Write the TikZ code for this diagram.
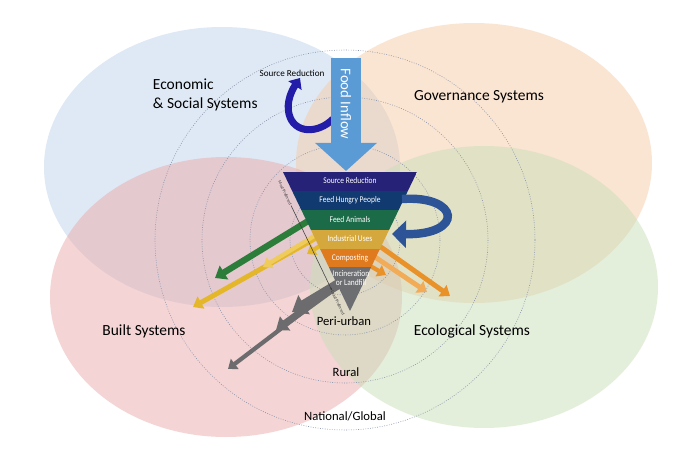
\documentclass[tikz,border=0pt]{standalone}
\usepackage{fontspec}
\setmainfont{Carlito}
\usetikzlibrary{arrows.meta}

\definecolor{econblue}{RGB}{190,212,236}
\definecolor{govorange}{RGB}{247,203,167}
\definecolor{builtpink}{RGB}{235,171,171}
\definecolor{ecogreen}{RGB}{201,223,185}
\definecolor{ringgrey}{RGB}{135,145,168}
\definecolor{inflowblue}{RGB}{91,155,213}
\definecolor{curlblue}{RGB}{34,28,168}
\definecolor{loopblue}{RGB}{44,84,150}
\definecolor{tierone}{RGB}{38,34,120}
\definecolor{tiertwo}{RGB}{16,58,112}
\definecolor{tierthree}{RGB}{27,107,72}
\definecolor{tierfour}{RGB}{212,168,60}
\definecolor{tierfive}{RGB}{224,122,30}
\definecolor{tiersix}{RGB}{108,110,113}
\definecolor{greenflow}{RGB}{44,125,58}
\definecolor{yellowflow}{RGB}{228,183,42}
\definecolor{yellowlight}{RGB}{238,203,90}
\definecolor{orangeflow}{RGB}{233,146,42}
\definecolor{orangelight}{RGB}{242,172,88}
\definecolor{greyflow}{RGB}{108,108,110}

\tikzset{
  ring/.style={draw=ringgrey, line width=0.4pt, dash pattern=on 0.6pt off 1.1pt},
  system/.style={font=\fontsize{11}{13}\selectfont},
  scalelabel/.style={font=\fontsize{9}{10}\selectfont},
  tier/.style={text=white, font=\fontsize{6.2}{6.6}\selectfont, inner sep=0pt, align=center, xscale=0.86, transform shape},
  flow/.style={line width=#1, -{Triangle[length=3pt 1, width=4pt 1.6]}},
  flow/.default=4pt,
  preftext/.style={font=\fontsize{3}{3.5}\selectfont, inner sep=0.5pt, text=black!80, rotate=-64.3}
}

\begin{document}
\begin{tikzpicture}[x=0.025cm,y=-0.025cm]

  \useasboundingbox[fill=white] (0,0) rectangle (700,454);

  % the four systems
  \begin{scope}[fill opacity=0.5]
    \fill[econblue]  (222,167) ellipse (178 and 140);
    \fill[govorange] (474,163) ellipse (178 and 140);
    \fill[builtpink] (226,297) ellipse (176 and 140);
    \fill[ecogreen]  (484,287) ellipse (174 and 141);
  \end{scope}

  % scales
  \foreach \r in {55,95,143,190}
    \draw[ring] (345,240) circle (\r);

  \begin{scope}[every node/.style={system}]
    \node[align=left, anchor=west] (econ) at (148,95) {Economic\\\& Social Systems};
    \node (gov)   at (479,97)  {Governance Systems};
    \node (built) at (144,331) {Built Systems};
    \node (eco)   at (472,331) {Ecological Systems};
  \end{scope}

  \begin{scope}[every node/.style={scalelabel}]
    \node (peri)   at (344,321) {Peri-urban};
    \node (rural)  at (346,372) {Rural};
    \node (global) at (345,416) {National/Global};
  \end{scope}

  % outflows
  \coordinate (greentail) at (318,215);
  \coordinate (greentip)  at (215,278);
  \draw[flow=4.5pt, greenflow] (greentail) -- (greentip);

  \coordinate (yellowtail) at (325,233);
  \draw[flow=3.5pt, yellowflow]  (yellowtail) -- (193,307);
  \draw[flow=3pt, yellowlight]   (324,230) -- (263,267);
  \draw[flow=3pt, yellowflow]    (326,242) -- (307,254);

  \draw[flow=3.5pt, orangeflow]  (378,245) -- (450,296);
  \draw[flow=3.5pt, orangelight] (372,255) -- (427,292);
  \draw[flow=3pt, orangeflow]    (365,263) -- (386,275);

  \coordinate (greytail) at (345,280);
  \draw[flow=3pt, greyflow] (greytail) -- (228,369);
  \draw[flow=5pt, greyflow] (greytail) -- (276,330);
  \draw[flow=7pt, greyflow] (greytail) -- (292,312);

  % hierarchy
  \begin{scope}
    \clip (283,172) -- (417,172) -- (350,311) -- cycle;
    \fill[tierone]   (283,172) rectangle (417,191);
    \fill[tiertwo]   (283,191) rectangle (417,210);
    \fill[tierthree] (283,210) rectangle (417,230);
    \fill[tierfour]  (283,230) rectangle (417,249);
    \fill[tierfive]  (283,249) rectangle (417,267);
    \fill[tiersix]   (283,267) rectangle (417,311);
  \end{scope}

  \begin{scope}[every node/.style={tier}]
    \node (source)   at (350,181) {Source Reduction};
    \node (hungry)   at (350,200) {Feed Hungry People};
    \node (animals)  at (350,220) {Feed Animals};
    \node (industry) at (350,239) {Industrial Uses};
    \node (compost)  at (350,258) {Composting};
    \node (landfill) at (351,278) {Incineration\\or Landfill};
  \end{scope}

  \node[preftext] (mostpref)  at (285,193) {Most Preferred};
  \node[preftext] (leastpref) at (338,303) {Least Preferred};
  \draw[black!75, line width=0.4pt, -{Stealth[length=2pt]}] (mostpref) -- (leastpref);

  % loops
  \coordinate (loopstart) at (402,199);
  \coordinate (loopend)   at (392,234);
  \draw[loopblue, line width=6pt, -{Triangle[length=10pt,width=19pt]}]
    (loopstart) .. controls (460,195) and (465,235) .. (loopend);

  \coordinate (curlstart) at (333,119);
  \coordinate (curlend)   at (300,78);
  \draw[curlblue, line width=5pt, -{Triangle[length=6.5pt,width=11pt]}]
    (curlstart) .. controls (318,134) and (294,134) .. (289,114)
    .. controls (286,102) and (292,90) .. (curlend);
  \node[font=\fontsize{6.5}{7}\selectfont] (curllabel) at (292,73) {Source Reduction};

  \coordinate (inflowtop)  at (346,58);
  \coordinate (funneltop)  at (346,171);
  \draw[inflowblue, line width=21.3pt, -{Triangle[length=20pt,width=43pt]}] (inflowtop) -- (funneltop);
  \node[rotate=-90, text=white, font=\fontsize{10.5}{12}\selectfont] (inflow) at (346,104) {Food Inflow};

\end{tikzpicture}
\end{document}
